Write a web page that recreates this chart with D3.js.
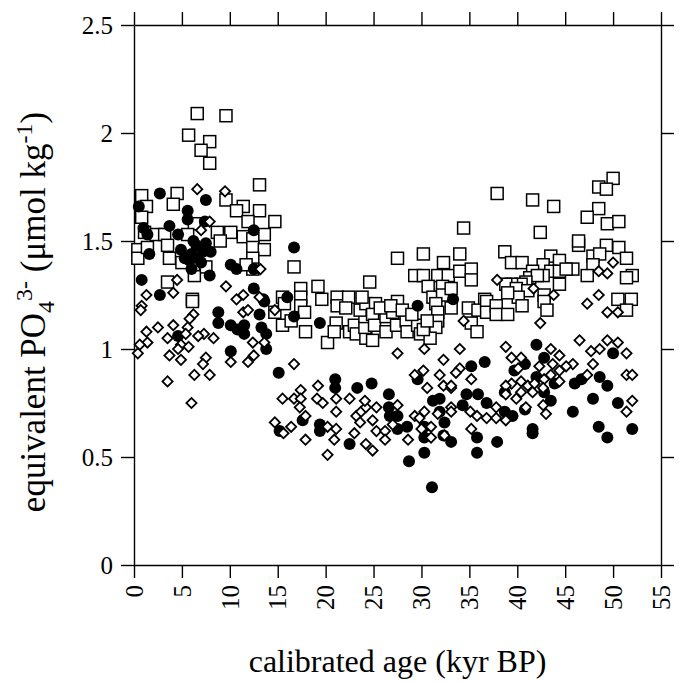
<!DOCTYPE html>
<html><head><meta charset="utf-8">
<script src="https://cdn.jsdelivr.net/npm/d3@7"></script>
<style>body{margin:0;background:#fff}svg{display:block}text{font-family:"Liberation Serif","Times New Roman",serif;fill:#000}</style>
</head><body>
<svg id="c" width="679" height="683"></svg>
<script>
// x tick labels and y tick labels
const xTicks = [0,5,10,15,20,25,30,35,40,45,50,55];
const yTicks = [0,0.5,1,1.5,2,2.5];

// open squares: [calibrated age (kyr BP), PO4 (umol/kg)]
const squares = [
[6.6,2.09],[9.6,2.08],[5.7,1.99],[7.9,1.96],[7.0,1.92],[7.9,1.86],[13.1,1.76],[0.8,1.71],[4.5,1.72],[4.1,1.67],
[1.3,1.66],[9.6,1.69],[11.4,1.66],[10.7,1.64],[13.1,1.64],[11.9,1.59],[14.7,1.59],[0.8,1.61],[6.3,1.58],[2.3,1.53],
[3.2,1.53],[8.7,1.54],[10.1,1.54],[11.4,1.52],[13.6,1.53],[5.6,1.53],[0.4,1.46],[0.4,1.42],[1.4,1.47],[3.5,1.48],
[12.4,1.51],[12.4,1.47],[13.6,1.46],[3.7,1.42],[5.0,1.40],[12.4,1.42],[12.4,1.37],[3.5,1.31],[7.5,1.38],[6.3,1.34],
[11.7,1.39],[6.1,1.23],[15.5,1.24],[16.7,1.38],[1.1,1.54],[6.2,1.39],[9.0,1.50],
[6.1,1.22],[14.7,1.17],[15.5,1.11],[16.4,1.13],[15.7,1.21],
[19.2,1.29],[17.4,1.28],[17.4,1.24],[17.4,1.20],[17.8,1.17],[17.9,1.08],[19.6,1.23],[21.2,1.24],[21.2,1.20],[22.4,1.24],
[20.2,1.03],[21.1,1.12],[20.9,1.08],[22.5,1.08],[23.0,1.11],[23.2,1.07],[24.2,1.05],[24.1,1.10],[24.1,1.15],[23.6,1.18],
[24.2,1.21],[24.6,1.31],[25.2,1.21],[24.9,1.16],[25.1,1.11],[24.9,1.04],[26.3,1.08],[26.3,1.15],[27.0,1.17],[27.4,1.11],
[27.5,1.22],[27.5,1.42],[28.4,1.13],[28.5,1.08],[29.6,1.11],[29.9,1.07],[29.3,1.34],[30.2,1.34],[30.2,1.44],[32.3,1.40],
[31.7,1.34],[32.8,1.34],[30.7,1.29],[31.2,1.24],[32.2,1.29],[32.2,1.25],[31.5,1.21],[31.7,1.17],[31.7,1.13],[31.5,1.10],
[30.9,1.05],[30.2,1.09],[33.1,1.19],[22.1,1.19],[23.8,1.24],[25.7,1.19],[26.8,1.20],[28.0,1.18],[29.0,1.16],[30.6,1.13],
[50.0,1.79],[48.5,1.75],[49.3,1.74],[37.9,1.72],[41.6,1.69],[43.8,1.66],[48.5,1.65],[47.3,1.61],[49.4,1.58],[50.6,1.59],
[34.4,1.56],[42.4,1.54],[46.4,1.48],[46.4,1.50],[49.3,1.48],[50.6,1.47],[34.0,1.44],[51.4,1.42],[38.7,1.45],[39.4,1.40],
[40.5,1.40],[43.5,1.43],[44.4,1.41],[47.9,1.43],[48.6,1.44],[47.9,1.39],[34.0,1.36],[35.2,1.37],[35.2,1.32],[33.1,1.28],
[42.7,1.39],[43.5,1.36],[44.4,1.36],[45.8,1.37],[45.1,1.37],[47.3,1.34],[52.0,1.34],[51.4,1.33],[42.7,1.34],[41.6,1.36],
[44.4,1.30],[41.3,1.33],[42.1,1.34],[40.9,1.31],[40.4,1.30],[39.4,1.30],[38.8,1.30],[39.9,1.28],[41.1,1.27],[42.8,1.25],
[36.6,1.23],[50.5,1.23],[51.9,1.23],[40.1,1.24],[39.0,1.26],
[34.9,1.19],[35.9,1.18],[36.8,1.22],[36.8,1.17],[37.8,1.20],[37.8,1.16],[39.0,1.16],[40.5,1.20],[42.8,1.22],[43.1,1.18],
[35.2,1.12],[35.8,1.08],[51.4,1.18]
];

// open diamonds
const diamonds = [
[6.6,1.74],[9.5,1.73],[7.9,1.59],[7.0,1.55],[13.2,1.37],[4.5,1.32],[1.3,1.25],[4.1,1.26],[9.6,1.29],[11.4,1.25],
[10.7,1.23],[13.1,1.24],[0.8,1.20],[0.7,1.18],[6.2,1.16],[5.8,1.14],[2.5,1.10],[1.3,1.08],[4.1,1.11],[5.6,1.10],
[5.4,1.07],[7.3,1.07],[6.7,1.06],[1.4,1.03],[0.6,1.02],[0.4,0.98],[3.5,1.05],[4.9,1.02],[5.7,1.01],[4.6,1.00],
[8.3,1.05],[3.7,0.97],[4.9,0.95],[7.5,0.96],[7.2,0.93],[6.3,0.88],[7.9,0.88],[3.5,0.85],[10.1,0.94],[11.9,0.94],
[12.5,0.97],[12.4,1.03],[13.6,1.03],[6.0,0.75],[11.4,1.17],[11.9,1.18],[14.7,1.18],[16.7,0.93],[15.5,0.77],[16.7,0.77],
[14.7,0.66],[16.4,0.64],[15.6,0.61],
[27.5,0.98],[30.3,1.00],[32.3,0.95],
[19.2,0.83],[17.4,0.81],[17.4,0.77],[19.1,0.77],[19.7,0.75],[21.1,0.77],[22.5,0.77],[21.1,0.71],[17.3,0.73],[17.9,0.69],
[20.2,0.64],[21.1,0.63],[20.9,0.58],[17.9,0.58],[20.2,0.51],[23.2,0.69],[23.7,0.71],[24.2,0.73],[24.1,0.76],[23.6,0.66],
[24.9,0.67],[25.3,0.73],[25.3,0.62],[26.2,0.62],[26.2,0.58],[23.0,0.61],[24.2,0.56],[24.9,0.53],[27.5,0.74],[27.0,0.65],
[28.6,0.58],[29.3,0.88],[30.2,0.90],[30.6,0.82],[31.9,0.88],[32.3,0.83],[33.1,0.82],[29.3,0.69],[29.8,0.68],[30.3,0.71],
[30.0,0.63],[31.0,0.64],[31.0,0.59],[32.4,0.60],[31.7,0.70],[33.1,0.73],
[50.0,1.40],[48.5,1.36],[49.4,1.35],[37.9,1.32],[41.7,1.28],[43.8,1.25],[48.5,1.25],[47.3,1.21],
[49.4,1.17],[50.5,1.17],[42.4,1.12],[34.4,1.13],[34.0,1.00],[38.8,1.01],[46.5,1.04],[49.4,1.04],[50.5,1.03],[48.6,1.00],
[47.7,0.99],[51.4,0.98],[47.9,0.93],[45.8,0.93],[43.5,1.00],[44.4,0.97],[39.4,0.96],[40.4,0.96],[40.1,0.91],[42.3,0.92],
[43.7,0.93],[45.1,0.92],[47.3,0.88],[51.4,0.88],[52.0,0.88],[34.0,0.91],[33.6,0.89],[35.2,0.86],[33.1,0.83],[39.4,0.84],
[40.4,0.85],[41.1,0.83],[41.6,0.80],[38.8,0.83],[40.4,0.80],[39.9,0.77],[38.8,0.79],[42.8,0.86],[43.5,0.88],[44.4,0.90],
[42.7,0.82],[41.8,0.84],[44.4,0.85],[40.9,0.73],[37.8,0.73],[42.7,0.74],[52.0,0.76],[51.4,0.71],
[33.1,0.71],[35.2,0.63],[35.1,0.71],[35.8,0.69],[36.8,0.68],[37.8,0.68],[38.8,0.67],[43.0,0.70]
];

// filled circles
const circles = [
[2.7,1.72],[7.5,1.69],[0.5,1.66],[5.6,1.64],[5.6,1.60],[3.7,1.57],[1.0,1.56],[1.4,1.53],[4.6,1.53],[7.4,1.59],
[6.5,1.48],[7.5,1.49],[7.2,1.45],[6.0,1.44],[6.7,1.42],[4.9,1.46],[8.0,1.45],[12.5,1.55],[1.6,1.44],[6.0,1.37],
[7.9,1.34],[10.1,1.39],[10.7,1.37],[12.5,1.37],[16.7,1.47],[0.8,1.32],[2.7,1.25],[12.5,1.28],[13.5,1.23],[16.0,1.24],
[5.3,1.42],[6.2,1.50],[7.0,1.40],[5.8,1.41],
[4.6,1.06],[8.8,1.17],[8.8,1.12],[10.1,1.11],[11.5,1.11],[10.8,1.09],[11.5,1.07],[13.1,1.16],[13.3,1.10],[13.8,1.07],
[13.6,1.22],[13.8,1.00],[10.1,0.99],[15.1,0.89],[15.2,0.62],[16.7,1.15],
[19.4,1.12],[29.6,1.20],[33.3,1.23],
[21.0,0.86],[21.0,0.82],[23.3,0.82],[24.8,0.84],[26.6,0.79],[26.6,0.73],[26.7,0.69],[27.5,0.69],[27.5,0.63],[28.5,0.64],
[17.6,0.67],[19.4,0.65],[19.4,0.62],[22.5,0.56],[28.7,0.48],[31.1,0.36],[29.6,0.86],[31.2,0.76],[31.9,0.77],[31.9,0.71],
[32.4,0.66],[30.3,0.64],[30.3,0.59],[30.3,0.52],[32.3,0.60],[33.1,0.57],
[42.0,1.02],[36.6,0.94],[50.0,0.98],[42.8,0.96],[40.8,0.93],[39.7,0.90],[35.2,0.92],[42.0,0.87],[43.9,0.84],[46.0,0.84],
[46.7,0.86],[48.6,0.87],[49.4,0.83],[47.9,0.77],[50.5,0.75],[42.8,0.80],[43.5,0.76],[34.7,0.79],[35.9,0.79],[36.8,0.75],
[34.3,0.74],[38.7,0.80],[40.8,0.72],[45.8,0.71],
[35.8,0.59],[35.8,0.52],[37.9,0.57],[41.6,0.63],[41.6,0.61],[48.5,0.64],[49.4,0.59],[52.0,0.63],[39.5,0.69],[38.7,0.71]
];

const svg = d3.select("#c");
const x = d3.scaleLinear().domain([0,55]).range([134,661]);
const y = d3.scaleLinear().domain([0,2.5]).range([565,25]);
const fs = 25, tickLen = 13;

function styleAxis(g){
  g.selectAll(".domain").attr("stroke","#000").attr("stroke-width",1.4);
  g.selectAll(".tick line").attr("stroke","#000").attr("stroke-width",1.4);
  g.selectAll("text").style("font-size",fs+"px").style("font-family",'"Liberation Serif",serif').attr("fill","#000");
}

// left axis
const gl = svg.append("g").attr("transform",`translate(${x(0)},0)`)
  .call(d3.axisLeft(y).tickValues(yTicks).tickSize(tickLen).tickSizeOuter(0).tickPadding(8).tickFormat(d=>String(d)));
styleAxis(gl);
// right axis
const gr = svg.append("g").attr("transform",`translate(${x(55)},0)`)
  .call(d3.axisRight(y).tickValues(yTicks).tickSize(tickLen).tickSizeOuter(0).tickFormat(""));
styleAxis(gr);
// top axis
const gt = svg.append("g").attr("transform",`translate(0,${y(2.5)})`)
  .call(d3.axisTop(x).tickValues(xTicks).tickSize(tickLen).tickSizeOuter(0).tickFormat(""));
styleAxis(gt);
// bottom axis
const gb = svg.append("g").attr("transform",`translate(0,${y(0)})`)
  .call(d3.axisBottom(x).tickValues(xTicks).tickSize(tickLen).tickSizeOuter(0).tickFormat(d=>String(d)));
styleAxis(gb);
gb.selectAll(".tick text").attr("transform","rotate(-90)").attr("text-anchor","end")
  .attr("x",-(tickLen+7)).attr("y",0).attr("dy","0.33em");

// marks
const plot = svg.append("g");
const sq = 12;
plot.selectAll("rect.sq").data(squares).join("rect").attr("class","sq")
  .attr("x",d=>x(d[0])-sq/2).attr("y",d=>y(d[1])-sq/2).attr("width",sq).attr("height",sq)
  .attr("fill","#fff").attr("stroke","#000").attr("stroke-width",1.5);
plot.selectAll("circle.ci").data(circles).join("circle").attr("class","ci")
  .attr("cx",d=>x(d[0])).attr("cy",d=>y(d[1])).attr("r",6).attr("fill","#000");
const dsym = d3.symbol().type(d3.symbolSquare).size(52);
plot.selectAll("path.di").data(diamonds).join("path").attr("class","di")
  .attr("d",dsym).attr("transform",d=>`translate(${x(d[0])},${y(d[1])}) rotate(45)`)
  .attr("fill","#fff").attr("stroke","#000").attr("stroke-width",1.8);

// axis titles
svg.append("text").attr("x",(x(0)+x(55))/2).attr("y",672).attr("text-anchor","middle")
  .style("font-size","32px").text("calibrated age (kyr BP)");
const yt = svg.append("text").attr("transform",`translate(45,312) rotate(-90)`)
  .attr("text-anchor","middle").style("font-size","35px");
yt.append("tspan").text("equivalent PO");
yt.append("tspan").attr("dy",9).style("font-size","24px").text("4");
yt.append("tspan").attr("dy",-22).style("font-size","24px").text("3-");
yt.append("tspan").attr("dy",13).text(" (\u03bcmol kg");
yt.append("tspan").attr("dy",-13).style("font-size","24px").text("-1");
yt.append("tspan").attr("dy",13).text(")");
</script>
</body></html>
